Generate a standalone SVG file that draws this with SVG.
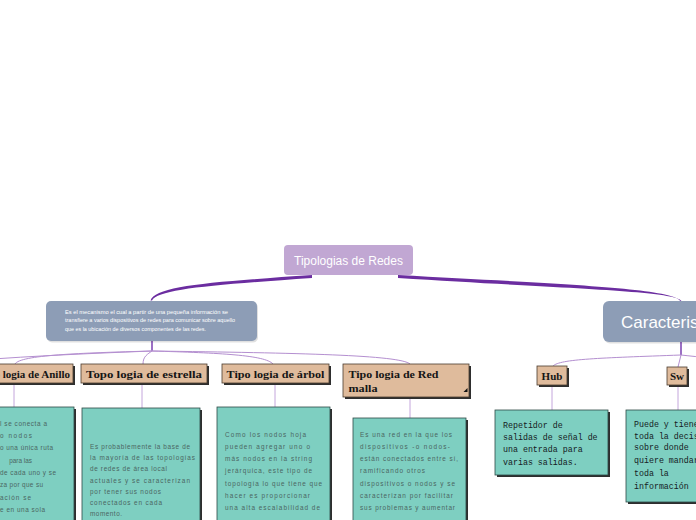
<svg xmlns="http://www.w3.org/2000/svg" width="696" height="520" viewBox="0 0 696 520">
<style>
.bg{fill:#ffffff}
.ob{fill:#dfbb9c;stroke:#4a3c30;stroke-width:0.8}
.sh{fill:#2e2e2e}
.tb{fill:#7ecfc1;stroke:#2f4a46;stroke-width:0.8}
.tt{font-family:"Liberation Sans",Arial,sans-serif;font-size:6.4px;fill:#4b6662}
.ot{font-family:"Liberation Serif","Times New Roman",serif;font-weight:bold;font-size:11px;fill:#151515}
.mono{font-family:"Liberation Mono","Courier New",monospace;font-size:8.3px;fill:#15201f}
.thin{fill:none;stroke:#b48fd0;stroke-width:1}
.stub{fill:none;stroke:#7a3fb0;stroke-width:1.5}
.vl{fill:none;stroke:#c4a6dc;stroke-width:1}
.main{fill:#6b2da0}
.wt{font-family:"Liberation Sans",Arial,sans-serif;fill:#ffffff}
</style>
<rect class="bg" x="0" y="0" width="696" height="520"/>

<g id="connectors">
  <path class="main" d="M312,275 C210,282 155,286 150.5,300.5 L152,300.5 C158,289 212,285 312,278 Z"/>
  <path class="main" d="M398,275 C560,284 672,288 680.5,301 L681.5,301 C676,290.5 560,288.5 398,278 Z"/>
  <path class="stub" d="M152,341 L152,351"/>
  <path class="thin" d="M152,351 C100,353 30,356 -20,360"/>
  <path class="thin" d="M152,351 C80,353 20,355 15,364"/>
  <path class="thin" d="M152,351 C148,354 143,356 143,364"/>
  <path class="thin" d="M152,351 C220,353 265,355 273,364"/>
  <path class="thin" d="M152,351 C300,353 400,355 410,364"/>
  <path class="vl" d="M14,383 L14,407"/>
  <path class="vl" d="M142,383 L142,408"/>
  <path class="vl" d="M275,383 L275,407"/>
  <path class="vl" d="M410,397 L410,418"/>
  <path class="stub" d="M681,342 L681,355"/>
  <path class="thin" d="M681,355 C600,358 560,359 553,366"/>
  <path class="thin" d="M681,355 L678,367"/>
  <path class="thin" d="M681,355 C690,356 700,357 710,358"/>
  <path class="vl" d="M552,385 L552,410"/>
  <path class="vl" d="M678,385 L678,410"/>
</g>

<g id="root">
  <rect x="284" y="245" width="129" height="30" rx="4" fill="#c1a7d3"/>
  <text class="wt" x="348.5" y="264.5" font-size="12" text-anchor="middle">Tipologias de Redes</text>
</g>

<g id="definicion">
  <rect x="47" y="302.5" width="211" height="40" rx="5" fill="#000" opacity="0.12"/>
  <rect x="46" y="301" width="211" height="40" rx="5" fill="#8d9db6"/>
  <text class="wt" font-size="4.9" x="65" y="314" textLength="163" lengthAdjust="spacingAndGlyphs">Es el mecanismo el cual a partir de una pequeña información se</text>
  <text class="wt" font-size="4.9" x="65" y="322.3" textLength="170" lengthAdjust="spacingAndGlyphs">transfiere a varios dispositivos de redes para comunicar sobre aquello</text>
  <text class="wt" font-size="4.9" x="65" y="330.5" textLength="141" lengthAdjust="spacingAndGlyphs">que es la ubicación de diversos componentes de las redes.</text>
</g>

<g id="caracteristicas">
  <rect x="604" y="302.5" width="120" height="41" rx="6" fill="#000" opacity="0.12"/>
  <rect x="603" y="301" width="120" height="41" rx="6" fill="#8d9db6"/>
  <text class="wt" x="621" y="327.5" font-size="17">Caracteristicas</text>
</g>

<g id="anillo">
  <rect class="sh" x="-58" y="366" width="133" height="19"/>
  <rect class="ob" x="-60" y="364" width="133" height="19"/>
  <text class="ot" x="70" y="377.5" text-anchor="end">Topo logia de Anillo</text>
</g>
<g id="anillo-texto">
  <rect class="sh" x="-58" y="409" width="134" height="130"/>
  <rect class="tb" x="-60" y="407" width="134" height="130"/>
  <text class="tt" x="0" y="426" textLength="47" lengthAdjust="spacing">l se conecta a</text>
  <text class="tt" x="0" y="438" textLength="32" lengthAdjust="spacing">o nodos</text>
  <text class="tt" x="0" y="450" textLength="53" lengthAdjust="spacing">o una única ruta</text>
  <text class="tt" x="32" y="462.5" text-anchor="end">para las</text>
  <text class="tt" x="0" y="475" textLength="56" lengthAdjust="spacing">de cada uno y se</text>
  <text class="tt" x="0" y="487" textLength="43" lengthAdjust="spacing">za por que su</text>
  <text class="tt" x="0" y="499.5" textLength="31" lengthAdjust="spacing">ación se</text>
  <text class="tt" x="0" y="512" textLength="45" lengthAdjust="spacing">e en una sola</text>
</g>

<g id="estrella">
  <rect class="sh" x="83" y="366" width="126" height="19"/>
  <rect class="ob" x="81" y="364" width="126" height="19"/>
  <text class="ot" x="86" y="377.5" textLength="116" lengthAdjust="spacingAndGlyphs">Topo logia de estrella</text>
</g>
<g id="estrella-texto">
  <rect class="sh" x="84" y="410" width="118" height="130"/>
  <rect class="tb" x="82" y="408" width="118" height="130"/>
  <text class="tt" x="90" y="449" textLength="100" lengthAdjust="spacing">Es probablemente la base de</text>
  <text class="tt" x="90" y="460.2" textLength="105" lengthAdjust="spacing">la mayoría de las topologías</text>
  <text class="tt" x="90" y="471.4" textLength="77" lengthAdjust="spacing">de redes de área local</text>
  <text class="tt" x="90" y="482.6" textLength="100" lengthAdjust="spacing">actuales y se caracterizan</text>
  <text class="tt" x="90" y="493.8" textLength="71" lengthAdjust="spacing">por tener sus nodos</text>
  <text class="tt" x="90" y="505" textLength="72" lengthAdjust="spacing">conectados en cada</text>
  <text class="tt" x="90" y="516.2" textLength="32" lengthAdjust="spacing">momento.</text>
</g>

<g id="arbol">
  <rect class="sh" x="224" y="366" width="107" height="19"/>
  <rect class="ob" x="222" y="364" width="107" height="19"/>
  <text class="ot" x="226.5" y="377.5" textLength="98" lengthAdjust="spacingAndGlyphs">Tipo logia de árbol</text>
</g>
<g id="arbol-texto">
  <rect class="sh" x="219" y="409" width="113" height="130"/>
  <rect class="tb" x="217" y="407" width="113" height="130"/>
  <text class="tt" x="225" y="437" textLength="81" lengthAdjust="spacing">Como los nodos hoja</text>
  <text class="tt" x="225" y="449" textLength="85" lengthAdjust="spacing">pueden agregar uno o</text>
  <text class="tt" x="225" y="461" textLength="87" lengthAdjust="spacing">más nodos en la string</text>
  <text class="tt" x="225" y="473" textLength="87" lengthAdjust="spacing">jerárquica, este tipo de</text>
  <text class="tt" x="225" y="485.5" textLength="97" lengthAdjust="spacing">topología lo que tiene que</text>
  <text class="tt" x="225" y="497.5" textLength="85" lengthAdjust="spacing">hacer es  proporcionar</text>
  <text class="tt" x="225" y="509.5" textLength="95" lengthAdjust="spacing">una alta escalabilidad de</text>
</g>

<g id="malla">
  <rect class="sh" x="345" y="366" width="126" height="33"/>
  <rect class="ob" x="343" y="364" width="126" height="33"/>
  <text class="ot" x="348.5" y="377.5" textLength="90" lengthAdjust="spacingAndGlyphs">Tipo logia de Red</text>
  <text class="ot" x="348.5" y="392" textLength="29" lengthAdjust="spacingAndGlyphs">malla</text>
  <polygon points="463.5,392 467.5,388 467.5,392" fill="#111"/>
</g>
<g id="malla-texto">
  <rect class="sh" x="355" y="420" width="113" height="120"/>
  <rect class="tb" x="353" y="418" width="113" height="120"/>
  <text class="tt" x="360" y="437" textLength="92" lengthAdjust="spacing">Es una red en la que los</text>
  <text class="tt" x="360" y="449" textLength="90" lengthAdjust="spacing">dispositivos -o nodos-</text>
  <text class="tt" x="360" y="461" textLength="98" lengthAdjust="spacing">están conectados entre sí,</text>
  <text class="tt" x="360" y="473" textLength="65" lengthAdjust="spacing">ramificando otros</text>
  <text class="tt" x="360" y="485.5" textLength="95" lengthAdjust="spacing">dispositivos o nodos y se</text>
  <text class="tt" x="360" y="497.5" textLength="93" lengthAdjust="spacing">caracterizan por facilitar</text>
  <text class="tt" x="360" y="510" textLength="95" lengthAdjust="spacing">sus problemas y aumentar</text>
</g>

<g id="hub">
  <rect class="sh" x="539" y="368" width="30" height="19"/>
  <rect class="ob" x="537" y="366" width="30" height="19"/>
  <text class="ot" x="552" y="379.5" text-anchor="middle">Hub</text>
</g>
<g id="hub-texto">
  <rect class="sh" x="497" y="412" width="113" height="65"/>
  <rect class="tb" x="495" y="410" width="113" height="65"/>
  <text class="mono" x="503" y="428">Repetidor de</text>
  <text class="mono" x="503" y="440">salidas de señal de</text>
  <text class="mono" x="503" y="452">una entrada para</text>
  <text class="mono" x="503" y="464.5">varias salidas.</text>
</g>

<g id="sw">
  <rect class="sh" x="669" y="369" width="20" height="18"/>
  <rect class="ob" x="667" y="367" width="20" height="18"/>
  <text class="ot" x="677" y="380" text-anchor="middle">Sw</text>
</g>
<g id="sw-texto">
  <rect class="sh" x="628" y="412" width="113" height="92"/>
  <rect class="tb" x="626" y="410" width="113" height="92"/>
  <text class="mono" x="634" y="427">Puede y tiene</text>
  <text class="mono" x="634" y="438.5">toda la decisión</text>
  <text class="mono" x="634" y="450">sobre donde</text>
  <text class="mono" x="634" y="462.5">quiere mandar</text>
  <text class="mono" x="634" y="475.5">toda la</text>
  <text class="mono" x="634" y="488.5">información</text>
</g>
</svg>
